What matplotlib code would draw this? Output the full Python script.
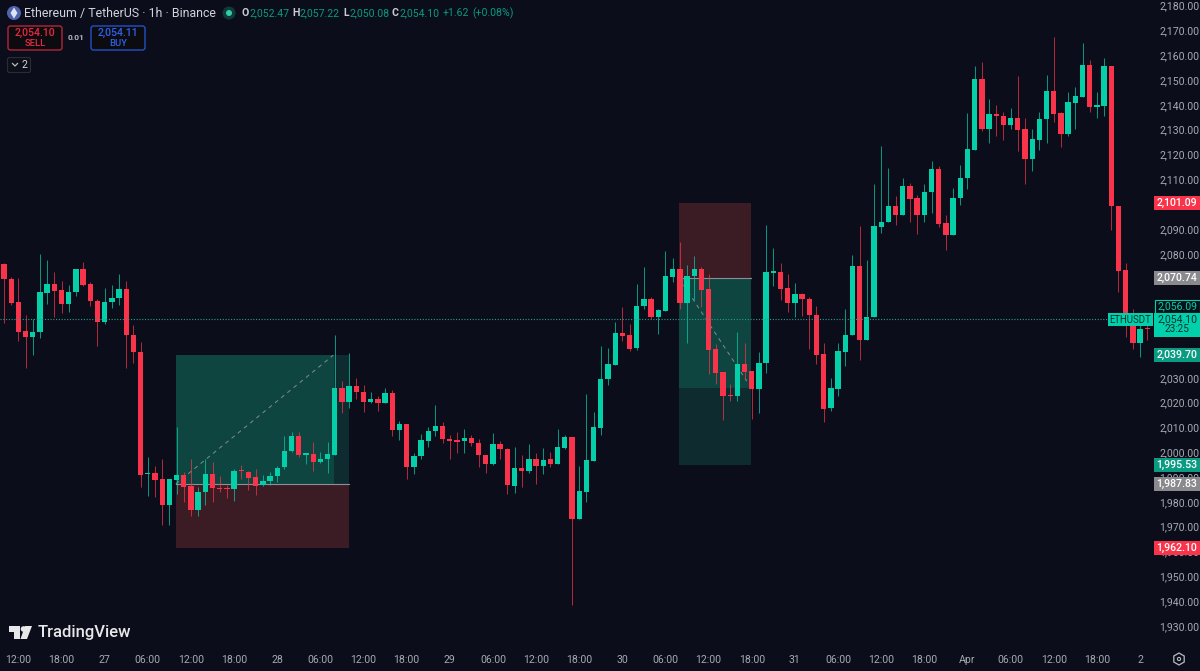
import numpy as np
import matplotlib
matplotlib.use("Agg")
import matplotlib.pyplot as plt
from matplotlib.patches import Rectangle, FancyBboxPatch, Circle, Polygon, RegularPolygon
from matplotlib.ticker import FuncFormatter
from matplotlib.transforms import ScaledTranslation

plt.rcParams['font.family'] = ['Roboto', 'DejaVu Sans']

# hourly candles
opens = [2076.5, 2070.6, 2061.0, 2049.5, 2047.0, 2048.9, 2064.9, 2068.4, 2065.9, 2060.5,
         2065.1, 2074.3, 2068.4, 2061.6, 2053.0, 2061.0, 2062.6, 2066.3, 2047.9, 2041.1,
         1991.9, 1992.1, 1989.7, 1979.2, 1989.4, 1991.4, 1986.8, 1977.3, 1984.4, 1991.7,
         1986.1, 1986.0, 1985.8, 1993.1, 1992.6, 1990.5, 1987.2, 1989.1, 1991.0, 1994.5,
         2001.0, 2007.3, 1999.6, 1999.8, 1996.8, 1997.9, 1999.6, 2026.5, 2020.7, 2027.2,
         2025.0, 2020.7, 2021.9, 2020.5, 2024.6, 2009.6, 2012.0, 1994.7, 1999.0, 2005.3,
         2009.0, 2011.3, 2006.1, 2005.4, 2005.0, 2006.3, 2004.4, 1999.5, 1995.9, 2003.9,
         2002.0, 1987.1, 1994.2, 1993.2, 1998.0, 1995.0, 1997.7, 1995.9, 2002.4, 2006.8,
         1973.8, 1984.7, 1997.2, 2010.5, 2030.0, 2035.9, 2048.5, 2047.8, 2042.5, 2059.5,
         2062.5, 2055.1, 2057.6, 2071.2, 2074.6, 2060.7, 2071.6, 2074.6, 2066.2, 2042.1,
         2032.8, 2023.6, 2023.1, 2036.1, 2033.3, 2026.2, 2036.5, 2073.0, 2073.1, 2066.9,
         2060.7, 2064.4, 2062.5, 2055.9, 2040.2, 2018.3, 2026.2, 2041.1, 2047.7, 2075.5,
         2045.8, 2054.9, 2091.4, 2093.3, 2100.0, 2096.3, 2107.8, 2102.9, 2096.3, 2105.5,
         2114.9, 2092.8, 2088.3, 2102.9, 2111.0, 2122.6, 2151.2, 2130.7, 2136.9, 2136.3,
         2132.4, 2135.3, 2130.7, 2118.9, 2126.6, 2134.9, 2146.2, 2137.3, 2128.9, 2141.5,
         2143.9, 2156.8, 2139.8, 2140.3, 2156.3, 2100.0, 2073.9, 2051.5, 2044.6, 2050.5]
closes = [2070.4, 2060.6, 2049.2, 2047.0, 2049.2, 2065.1, 2068.3, 2065.6, 2060.5, 2065.2,
          2074.3, 2068.1, 2061.4, 2053.0, 2061.2, 2062.8, 2066.3, 2047.7, 2041.0, 1991.5,
          1992.2, 1989.4, 1979.2, 1989.7, 1991.4, 1986.7, 1977.3, 1984.7, 1991.7, 1986.0,
          1985.6, 1985.6, 1992.9, 1992.9, 1990.3, 1987.1, 1989.1, 1991.0, 1994.4, 2001.0,
          2007.3, 1999.5, 1999.9, 1996.8, 1997.9, 1999.8, 2026.5, 2020.7, 2027.2, 2024.8,
          2020.7, 2021.9, 2020.5, 2024.6, 2009.6, 2012.0, 1994.7, 1999.2, 2005.4, 2009.0,
          2011.3, 2005.9, 2005.3, 2004.9, 2006.3, 2004.3, 1999.3, 1995.9, 2003.8, 2001.8,
          1987.2, 1994.2, 1993.2, 1997.9, 1995.0, 1997.6, 1995.9, 2002.6, 2006.6, 1973.8,
          1984.8, 1997.3, 2010.6, 2030.3, 2036.1, 2048.5, 2047.6, 2042.3, 2059.7, 2062.5,
          2055.1, 2057.8, 2071.5, 2074.6, 2060.7, 2071.8, 2074.6, 2066.0, 2041.8, 2032.5,
          2023.4, 2023.2, 2036.1, 2033.1, 2026.2, 2036.7, 2073.1, 2073.1, 2066.5, 2060.7,
          2064.2, 2062.2, 2055.8, 2039.9, 2018.1, 2026.3, 2041.3, 2047.8, 2075.5, 2045.8,
          2054.9, 2091.6, 2093.5, 2100.0, 2096.3, 2107.8, 2102.7, 2096.3, 2105.6, 2114.9,
          2092.6, 2088.3, 2103.1, 2111.1, 2122.7, 2151.2, 2130.7, 2136.9, 2136.1, 2132.4,
          2135.3, 2130.5, 2118.9, 2126.7, 2135.0, 2146.2, 2136.9, 2129.0, 2141.6, 2144.1,
          2156.8, 2139.8, 2140.4, 2156.3, 2100.0, 2073.8, 2052.5, 2044.7, 2050.4, 2050.1]
highs = [2076.7, 2071.1, 2070.7, 2056.0, 2054.2, 2080.5, 2078.1, 2073.1, 2069.6, 2067.9,
         2074.6, 2077.4, 2069.4, 2062.2, 2066.7, 2068.0, 2072.4, 2069.6, 2052.0, 2044.9,
         1998.5, 1995.2, 1997.7, 1989.7, 2010.6, 1992.5, 1997.7, 1986.6, 1997.9, 1996.5,
         1991.1, 1987.4, 1994.0, 1995.4, 1993.1, 1994.0, 1991.4, 1992.5, 1995.2, 2007.3,
         2008.6, 2008.6, 1999.9, 2004.9, 2000.8, 2004.9, 2047.7, 2029.3, 2040.5, 2030.4,
         2027.5, 2025.0, 2023.3, 2026.5, 2025.6, 2013.1, 2012.0, 2000.2, 2008.0, 2010.6,
         2019.6, 2012.8, 2007.5, 2008.6, 2010.1, 2007.5, 2005.8, 1999.5, 2008.2, 2005.0,
         2002.4, 2002.6, 1999.3, 2003.8, 2000.4, 2002.3, 2000.5, 2009.8, 2007.4, 2006.8,
         1995.0, 2024.0, 2016.6, 2043.6, 2042.5, 2053.1, 2059.1, 2052.3, 2068.4, 2075.1,
         2063.0, 2058.3, 2081.7, 2078.9, 2085.2, 2076.2, 2079.8, 2075.1, 2072.4, 2044.1,
         2032.8, 2027.9, 2049.2, 2044.5, 2033.3, 2041.0, 2092.2, 2082.9, 2076.7, 2072.4,
         2068.9, 2064.9, 2063.0, 2059.4, 2044.5, 2030.5, 2044.5, 2058.2, 2079.9, 2091.9,
         2078.1, 2108.7, 2124.2, 2115.3, 2104.0, 2111.1, 2109.0, 2104.3, 2108.7, 2117.8,
         2116.0, 2096.2, 2107.0, 2116.5, 2137.2, 2156.3, 2158.0, 2142.8, 2140.4, 2137.9,
         2139.4, 2152.1, 2135.3, 2130.9, 2137.9, 2152.5, 2167.8, 2137.9, 2145.7, 2147.8,
         2165.4, 2158.7, 2145.9, 2159.4, 2156.3, 2100.0, 2076.7, 2058.4, 2051.9, 2051.9]
lows = [2052.5, 2059.9, 2045.4, 2034.7, 2039.8, 2046.8, 2060.4, 2055.1, 2056.6, 2057.0,
        2063.6, 2067.6, 2059.5, 2043.5, 2052.3, 2058.7, 2059.9, 2034.7, 2036.7, 1986.6,
        1982.9, 1982.5, 1971.2, 1971.2, 1983.7, 1980.7, 1975.0, 1974.7, 1979.2, 1980.4,
        1984.7, 1982.1, 1981.1, 1989.9, 1985.3, 1983.3, 1987.1, 1987.4, 1988.7, 1993.7,
        2000.7, 1998.5, 1995.9, 1993.0, 1996.3, 1992.4, 1999.6, 2016.4, 2018.5, 2022.1,
        2016.7, 2020.6, 2017.2, 2020.3, 2007.0, 2005.4, 1989.8, 1991.8, 1997.9, 2002.7,
        2007.3, 2004.4, 1997.9, 2000.2, 2000.2, 2003.1, 1994.7, 1992.1, 1995.6, 1997.9,
        1983.8, 1984.3, 1986.6, 1992.4, 1987.8, 1991.8, 1994.5, 1995.9, 2001.8, 1939.0,
        1973.8, 1980.5, 1997.2, 2007.5, 2027.7, 2035.9, 2045.4, 2041.4, 2041.8, 2058.2,
        2054.2, 2048.2, 2057.6, 2069.2, 2058.2, 2044.5, 2061.9, 2059.0, 2032.1, 2028.1,
        2013.6, 2021.2, 2021.2, 2029.7, 2014.1, 2016.5, 2032.5, 2067.5, 2061.9, 2057.2,
        2055.1, 2055.4, 2042.3, 2036.1, 2012.8, 2017.3, 2023.1, 2035.3, 2047.7, 2037.7,
        2045.8, 2054.9, 2089.0, 2093.3, 2092.2, 2096.3, 2093.3, 2088.5, 2093.3, 2096.9,
        2091.5, 2082.1, 2088.3, 2100.2, 2106.6, 2122.6, 2130.2, 2125.2, 2128.2, 2126.4,
        2130.9, 2122.1, 2108.7, 2114.1, 2122.4, 2125.2, 2133.8, 2123.6, 2128.2, 2130.7,
        2143.7, 2137.6, 2135.3, 2136.1, 2090.2, 2065.0, 2046.9, 2042.0, 2039.1, 2045.8]

time_ticks = list(range(2, 159, 6))
time_labels = ["12:00", "18:00", "27", "06:00", "12:00", "18:00", "28", "06:00", "12:00",
               "18:00", "29", "06:00", "12:00", "18:00", "30", "06:00", "12:00", "18:00",
               "31", "06:00", "12:00", "18:00", "Apr", "06:00", "12:00", "18:00", "2"]
# 2100 and 2040-2070 sit fully under the price tags
price_ticks = [1930, 1940, 1950, 1960, 1970, 1980, 1990, 2000, 2010, 2020, 2030,
               2080, 2090, 2110, 2120, 2130, 2140, 2150, 2160, 2170, 2180]

last_price = 2054.10
long_prices = [1962.10, 1987.83, 2039.70]
short_prices = [1995.53, 2026.6, 2070.74, 2101.09]

BG = "#0b0e1a"
UP = "#04cfa8"
DOWN = "#f9344a"
TEAL = "#00d0ab"
GREY = "#a6a9b2"
FS = 7.6

fig = plt.figure(figsize=(12, 6.71), dpi=100, facecolor=BG)
ax = fig.add_axes([0, 24 / 671, 1154 / 1200, 647 / 671], facecolor=BG)
ax.set_xlim(-0.556, 159.94)
ax.set_ylim(1922.05, 2182.9)
for s in ax.spines.values():
    s.set_visible(False)

# position tools
ax.add_patch(Rectangle((23.9, long_prices[0]), 24.1, long_prices[1] - long_prices[0], color="#3b1b24", lw=0, zorder=1))
ax.add_patch(Rectangle((23.9, long_prices[1]), 24.1, long_prices[2] - long_prices[1], color="#0e2c30", lw=0, zorder=1))
ax.add_patch(Rectangle((23.9, long_prices[1]), 22.0, long_prices[2] - long_prices[1], color="#0e4540", lw=0, zorder=1.1))
ax.plot([23.9, 48.0], [long_prices[1]] * 2, color="#8a9096", lw=0.8, zorder=1.5)
ax.plot([23.9, 45.8], [long_prices[1], long_prices[2]], color="#7d8b8c", lw=0.72, dashes=(4, 4), zorder=1.5)

ax.add_patch(Rectangle((93.9, short_prices[2]), 10.0, short_prices[3] - short_prices[2], color="#3b1b24", lw=0, zorder=1))
ax.add_patch(Rectangle((93.9, short_prices[0]), 10.0, short_prices[1] - short_prices[0], color="#0e2c30", lw=0, zorder=1))
ax.add_patch(Rectangle((93.9, short_prices[1]), 10.0, short_prices[2] - short_prices[1], color="#0e4540", lw=0, zorder=1))
ax.plot([93.9, 103.9], [short_prices[2]] * 2, color="#8a9096", lw=0.8, zorder=1.5)
ax.plot([93.9, 103.3], [short_prices[2], 2029.3], color="#7d8b8c", lw=0.72, dashes=(4, 4), zorder=1.5)

# candles
idx = np.arange(len(opens))
o = np.array(opens)
c = np.array(closes)
colors = [UP if cl >= op else DOWN for op, cl in zip(opens, closes)]
ax.vlines(idx, lows, highs, colors=colors, lw=0.72, alpha=0.7, zorder=3)
ax.bar(idx, np.maximum(np.abs(c - o), 0.5), bottom=np.minimum(o, c), width=0.74, color=colors, lw=0, zorder=3.1)

ax.axhline(last_price, xmax=1108 / 1154, color="#2a9d8a", lw=0.8, dashes=(1, 1.5), zorder=4)

# axes
ax.yaxis.tick_right()
ax.set_yticks(price_ticks)
ax.yaxis.set_major_formatter(FuncFormatter(lambda v, p: f"{v:,.2f}"))
ax.tick_params(axis="y", length=0, pad=4, labelsize=FS, labelcolor=GREY)
ax.set_xticks(time_ticks)
ax.set_xticklabels(time_labels)
ax.tick_params(axis="x", length=0, pad=6, labelsize=FS, labelcolor=GREY)
for lab in ax.get_yticklabels():
    lab.set_transform(lab.get_transform() + ScaledTranslation(0, 1.5 / 100, fig.dpi_scale_trans))

# price tags on the right scale
tr = ax.get_yaxis_transform()
right = 1 + 46 / 1154


def price_tag(price, bg, fg="white", h=2.8):
    ax.add_patch(Rectangle((1.0, price - h), right - 1, 2 * h, transform=tr, clip_on=False,
                           facecolor=bg, lw=0, zorder=6))
    ax.text(1 + 23 / 1154, price, f"{price:,.2f}", transform=tr, color=fg, fontsize=FS,
            ha="center", va="center", zorder=7, fontweight="medium")


price_tag(2101.09, "#f9344a")
price_tag(2070.74, "#8a8a8e")
price_tag(2039.70, "#0a9c82")
price_tag(1995.53, "#0a9c82")
price_tag(1987.83, "#8a8a8e")
price_tag(1962.10, "#f9344a")

# overlay in pixel coordinates for the header, logo and last price box
ui = fig.add_axes([0, 0, 1, 1], facecolor="none")
ui.set_xlim(0, 1200)
ui.set_ylim(671, 0)
ui.axis("off")

# TV pushes this tag above the last price box, so it sits off its true level
ui.add_patch(Rectangle((1154.5, 300), 45, 12.5, facecolor="#0b1118", edgecolor=TEAL, lw=0.8, zorder=6))
ui.text(1177, 306, "2,056.09", color=TEAL, fontsize=FS, ha="center", va="center", zorder=7)

ui.add_patch(Rectangle((1108, 313), 45, 13, facecolor=TEAL, lw=0, zorder=6))
ui.text(1130.5, 319.8, "ETHUSDT", color="#08312d", fontsize=6.9, ha="center", va="center", zorder=7)
ui.add_patch(Rectangle((1154, 313), 46, 24, facecolor=TEAL, lw=0, zorder=6))
ui.text(1177, 319.5, "2,054.10", color="#08312d", fontsize=FS, ha="center", va="center", zorder=7)
ui.text(1177, 329.5, "23:25", color="#08312d", fontsize=7.2, ha="center", va="center", zorder=7)

# title row
ui.add_patch(Circle((14, 13), 7, facecolor="#4f63ad", lw=0))
ui.add_patch(Polygon([(14, 7.5), (17.5, 13), (14, 18.5), (10.5, 13)], facecolor="#dfe4f4", lw=0))
ui.text(24, 13, "Ethereum / TetherUS · 1h · Binance", color="#d1d4dc", fontsize=8.9, va="center")
ui.add_patch(Circle((229, 13), 6.5, facecolor="#0f3a38", lw=0))
ui.add_patch(Circle((229, 13), 3, facecolor="#2ecfa8", lw=0))

ohlc_labels = ["O", "H", "L", "C"]
ohlc_values = ["2,052.47", "2,057.22", "2,050.08", "2,054.10"]
ohlc_label_x = [241.5, 292, 343, 392]
ohlc_value_x = [249, 300, 349.5, 399]
for lab, val, x, vx in zip(ohlc_labels, ohlc_values, ohlc_label_x, ohlc_value_x):
    ui.text(x, 13, lab, color="#c9ccd4", fontsize=FS, va="center", fontweight="bold")
    ui.text(vx, 13, val, color="#089981", fontsize=FS, va="center")
ui.text(443, 13, "+1.62", color="#089981", fontsize=FS, va="center")
ui.text(472, 13, "(+0.08%)", color="#089981", fontsize=FS, va="center")

# order buttons
ui.add_patch(FancyBboxPatch((8, 26), 54, 24, boxstyle="round,pad=0,rounding_size=2.5",
                            facecolor="#0c0c10", edgecolor="#b3263a", lw=1))
ui.text(35, 33, "2,054.10", color="#e9293f", fontsize=FS, ha="center", va="center", fontweight="medium")
ui.text(35, 44, "SELL", color="#e9293f", fontsize=6.8, ha="center", va="center", fontweight="medium")
ui.text(76, 38, "0.01", color="#b5b8bf", fontsize=6.0, ha="center", va="center", fontweight="bold")
ui.add_patch(FancyBboxPatch((91, 26), 54, 24, boxstyle="round,pad=0,rounding_size=2.5",
                            facecolor="#0c0c10", edgecolor="#2450c8", lw=1))
ui.text(118, 33, "2,054.11", color="#2f62ec", fontsize=FS, ha="center", va="center", fontweight="medium")
ui.text(118, 44, "BUY", color="#2f62ec", fontsize=6.8, ha="center", va="center", fontweight="medium")
ui.add_patch(FancyBboxPatch((7.5, 57.5), 23, 15, boxstyle="round,pad=0,rounding_size=2",
                            facecolor="#0d1018", edgecolor="#2a2d36", lw=0.8))
ui.plot([12.5, 15, 17.5], [63.5, 66, 63.5], color="#b8bbc2", lw=0.9)
ui.text(24.5, 65, "2", color="#d1d4dc", fontsize=7.6, ha="center", va="center")

# logo
ui.add_patch(Polygon([(9, 626), (20, 626), (20, 639), (14, 639), (14, 632), (9, 632)], facecolor="#e8e8ea", lw=0))
ui.add_patch(Circle((23.5, 629), 2.8, facecolor="#e8e8ea", lw=0))
ui.add_patch(Polygon([(25, 626), (32, 626), (27, 639), (20.5, 639)], facecolor="#e8e8ea", lw=0))
ui.text(38, 632.5, "TradingView", color="#e8e8ea", fontsize=12, va="center", fontweight="medium")

# settings button
ui.add_patch(RegularPolygon((1179, 659), 6, radius=6, facecolor="none", edgecolor="#b9bbc2", lw=0.9))
ui.add_patch(Circle((1179, 659), 1.6, facecolor="none", edgecolor="#b9bbc2", lw=0.8))

fig.savefig("out.png", dpi=100, facecolor=BG)
